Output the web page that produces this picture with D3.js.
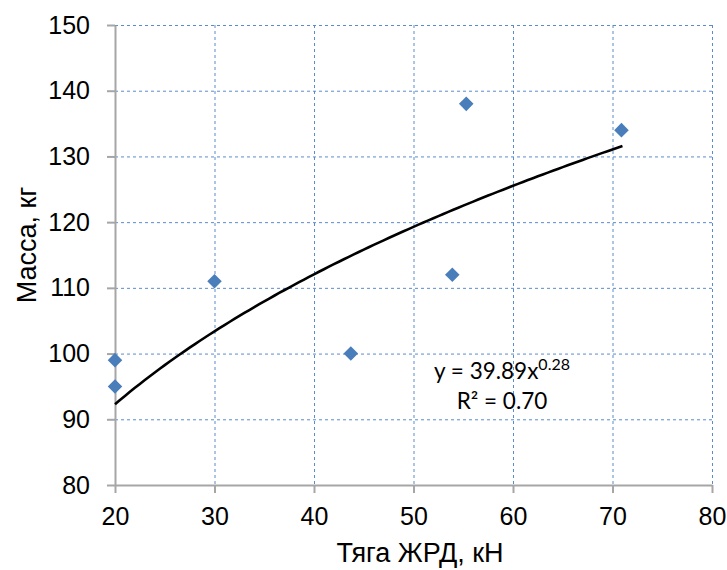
<!DOCTYPE html>
<html>
<head>
<meta charset="utf-8">
<script src="https://cdn.jsdelivr.net/npm/d3@7"></script>
<style>
  html, body { margin: 0; padding: 0; background: #fff; }
  svg text { font-family: "Liberation Sans", Arial, sans-serif; }
</style>
</head>
<body>
<svg id="chart" width="727" height="570"></svg>
<script>
// Engine thrust (kN) vs. mass (kg)
const thrust = [20, 20, 30, 43.7, 53.9, 55.3, 70.9];
const mass   = [99, 95, 111, 100, 112, 138, 134];

// Power-law fit y = a * x^b
const fitA = 39.89;
const fitB = 0.28;
const fitR2 = 0.70;

const xTicks = [20, 30, 40, 50, 60, 70, 80];
const yTicks = [80, 90, 100, 110, 120, 130, 140, 150];

const svg = d3.select("#chart");
const plot = { left: 115, right: 712, top: 25, bottom: 485 };

const x = d3.scaleLinear().domain([20, 80]).range([plot.left, plot.right]);
const y = d3.scaleLinear().domain([80, 150]).range([plot.bottom, plot.top]);

const gridColor = "#5a8ccc";

// gridlines
svg.append("g").selectAll("line").data(yTicks.filter(d => d > 80)).join("line")
  .attr("x1", plot.left).attr("x2", plot.right)
  .attr("y1", d => y(d) + 0.5).attr("y2", d => y(d) + 0.5)
  .attr("stroke", gridColor).attr("stroke-width", 1).attr("stroke-dasharray", "3,3");
svg.append("g").selectAll("line").data(xTicks.filter(d => d > 20)).join("line")
  .attr("y1", plot.top).attr("y2", plot.bottom)
  .attr("x1", d => x(d) + 0.5).attr("x2", d => x(d) + 0.5)
  .attr("stroke", gridColor).attr("stroke-width", 1).attr("stroke-dasharray", "3,3");

// axes
const xAxis = svg.append("g").attr("transform", `translate(0,${plot.bottom})`)
  .call(d3.axisBottom(x).tickValues(xTicks).tickSize(8).tickPadding(14).tickSizeOuter(0));
const yAxis = svg.append("g").attr("transform", `translate(${plot.left},0)`)
  .call(d3.axisLeft(y).tickValues(yTicks).tickSize(8).tickPadding(17).tickSizeOuter(0));
[xAxis, yAxis].forEach(g => {
  g.select(".domain").attr("stroke", "#a6a6a6").attr("stroke-width", 2);
  g.selectAll(".tick line").attr("stroke", "#a6a6a6").attr("stroke-width", 2);
  g.selectAll(".tick text").attr("fill", "#000").attr("font-size", 25)
    .attr("font-family", "Liberation Sans, Arial, sans-serif");
});

// trend line
const fitX = d3.range(20, 71.01, 0.5);
const line = d3.line().x(d => x(d)).y(d => y(fitA * Math.pow(d, fitB)));
svg.append("path").datum(fitX).attr("d", line)
  .attr("fill", "none").attr("stroke", "#000").attr("stroke-width", 2.6);

// data points
const diamond = d3.symbol().type(d3.symbolDiamond2).size(135);
svg.append("g").selectAll("path").data(thrust.map((t, i) => [t, mass[i]])).join("path")
  .attr("d", diamond)
  .attr("transform", d => `translate(${x(d[0])},${y(d[1])})`)
  .attr("fill", "#4a7ebb");

// fit equation
const eq = svg.append("text").attr("x", 502).attr("y", 379)
  .attr("text-anchor", "middle").attr("font-size", 22.5).attr("fill", "#000")
  .style("font-family", "Lato, 'Open Sans', sans-serif");
eq.append("tspan").text("y = " + fitA.toFixed(2) + "x");
eq.append("tspan").attr("dy", -9).attr("font-size", 16).text(fitB.toFixed(2));
svg.append("text").attr("x", 502).attr("y", 409)
  .attr("text-anchor", "middle").attr("font-size", 22.5).attr("fill", "#000")
  .style("font-family", "Lato, 'Open Sans', sans-serif")
  .text("R² = " + fitR2.toFixed(2));

// axis titles
svg.append("text").attr("x", 420).attr("y", 562)
  .attr("text-anchor", "middle").attr("font-size", 27).attr("fill", "#000")
  .text("Тяга ЖРД, кН");
svg.append("text").attr("transform", "translate(36,245) rotate(-90)")
  .attr("text-anchor", "middle").attr("font-size", 27).attr("fill", "#000")
  .text("Масса, кг");
</script>
</body>
</html>
